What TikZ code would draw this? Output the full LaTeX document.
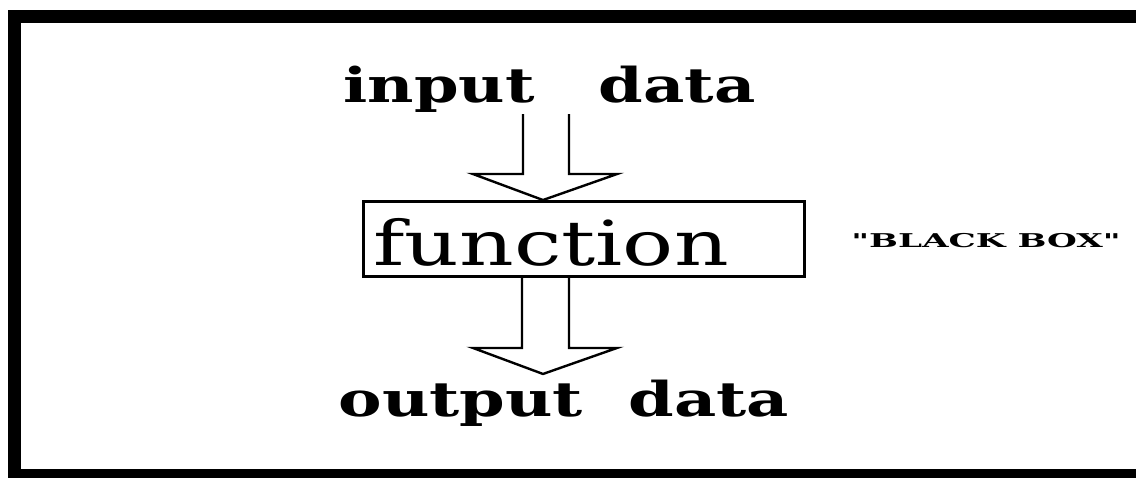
\documentclass[tikz,border=0pt]{standalone}
\usepackage{fontspec}
\setmainfont{DejaVu Serif}
\newfontfamily\plainquotes[Ligatures=TeXOff]{DejaVu Serif}
\usetikzlibrary{calc}
\begin{document}
\begin{tikzpicture}[x=0.75pt,y=-0.75pt,
  frame/.style={line width=9.75pt, line join=miter},
  lbl/.style={inner sep=0pt, anchor=base},
  fnbox/.style={draw, line width=2.2pt, minimum width=330.75pt, minimum height=56.25pt, inner sep=0pt},
  flow/.style={line width=1.8pt, line join=miter}]
\useasboundingbox (0,0) rectangle (1136,478);
% heavy frame, open on the right
\begin{scope}
\clip (0,0) rectangle (1136,478);
\draw[frame] (1150,16.5) -- (14,16.5) -- (14,475) -- (1150,475);
\end{scope}
% labels
\node[lbl] (in) at (549.5,103) {\fontsize{36}{40}\selectfont\bfseries\scalebox{1.33}[1]{input\hspace{1.0em}data}};
\node[lbl] (out) at (564,416) {\fontsize{36}{40}\selectfont\bfseries\scalebox{1.36}[1]{output\hspace{0.7em}data}};
\node[fnbox] (fn) at (584,239) {};
\node[lbl] (fnlabel) at (551,265) {\fontsize{46.5}{50}\selectfont\scalebox{1.37}[1]{function}};
\node[lbl] (bb) at (986,247) {\plainquotes\fontsize{14.25}{16}\selectfont\bfseries\scalebox{1.8}[1]{"BLACK BOX"}};
% input arrow into the box
\coordinate (intip) at ($(fn.north)+(-41,0)$);
\draw[flow] ($(intip)+(-20,-86)$) -- ++(0,60) -- ++(-50,0) -- (intip) -- ++(74,-26) -- ++(-48,0) -- ++(0,-60);
% output arrow out of the box
\coordinate (outtop) at ($(fn.south)+(-62,0)$);
\draw[flow] (outtop) -- ++(0,70) -- ++(-49,0) -- ++(70,26) -- ++(74,-26) -- ++(-48,0) -- ++(0,-70);
\end{tikzpicture}
\end{document}
